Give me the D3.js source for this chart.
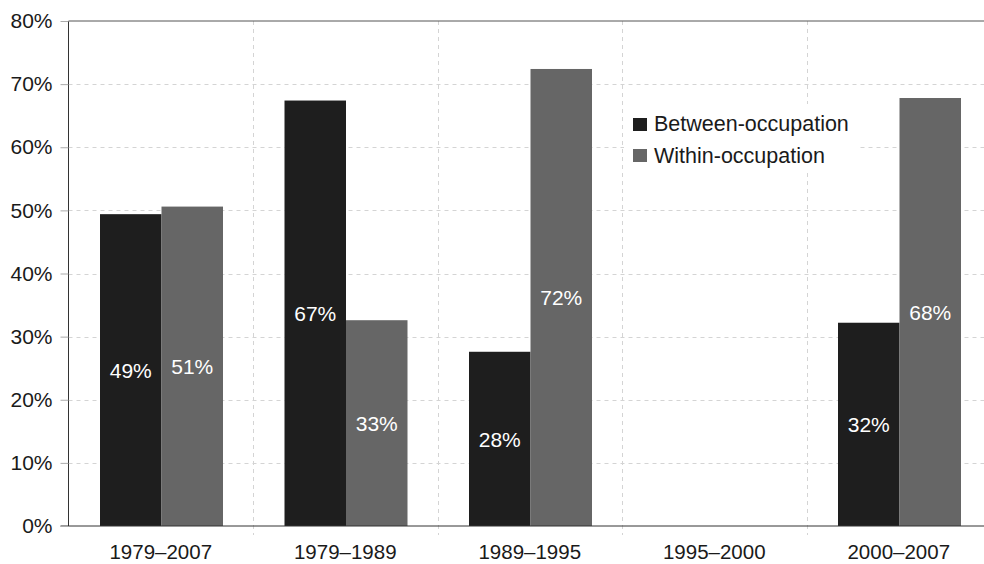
<!DOCTYPE html>
<html>
<head>
<meta charset="utf-8">
<script src="https://cdn.jsdelivr.net/npm/d3@7"></script>
<style>
  html, body { margin: 0; padding: 0; background: #fff; }
  svg { display: block; font-family: "Liberation Sans", Arial, Helvetica, sans-serif; }
</style>
</head>
<body>
<div id="chart"></div>
<script>
// ---- data ----
const periods = ["1979–2007", "1979–1989", "1989–1995", "1995–2000", "2000–2007"];
const seriesNames = ["Between-occupation", "Within-occupation"];
const between = [49.4, 67.4, 27.6, null, 32.2];
const within = [50.6, 32.6, 72.4, null, 67.8];
const yTicks = [0, 10, 20, 30, 40, 50, 60, 70, 80];
const colors = ["#1e1e1e", "#666666"];

(function () {
  const W = 984, H = 564;
  const pL = 68.5, pR = 991, pT = 21, pB = 526;

  const svg = d3.select("#chart").append("svg").attr("width", W).attr("height", H);

  const x0 = d3.scaleBand().domain(periods).range([pL, pR]);
  const x1 = d3.scaleBand().domain(seriesNames).range([31.5, x0.bandwidth() - 30]);
  const y = d3.scaleLinear().domain([0, 80]).range([pB, pT]);

  // horizontal grid
  svg.append("g").selectAll("line").data(yTicks.slice(1, -1)).join("line")
    .attr("x1", pL).attr("x2", pR)
    .attr("y1", d => Math.round(y(d)) + 0.5).attr("y2", d => Math.round(y(d)) + 0.5)
    .attr("stroke", "#d4d4d4").attr("stroke-dasharray", "4 4");

  // vertical grid (band boundaries), extending below axis as ticks
  svg.append("g").selectAll("line").data(periods.slice(1)).join("line")
    .attr("x1", d => Math.round(x0(d)) + 0.5).attr("x2", d => Math.round(x0(d)) + 0.5)
    .attr("y1", pT).attr("y2", pB + 9)
    .attr("stroke", "#d4d4d4").attr("stroke-dasharray", "4 4");

  // bars
  const rows = periods.map((p, i) => ({ p, vals: [between[i], within[i]] }));
  const grp = svg.append("g").selectAll("g").data(rows).join("g")
    .attr("transform", d => `translate(${x0(d.p)},0)`);
  const cells = d => d.vals.map((v, k) => ({ v, k })).filter(e => e.v != null);
  grp.selectAll("rect").data(cells).join("rect")
    .attr("x", e => x1(seriesNames[e.k]))
    .attr("width", x1.bandwidth())
    .attr("y", e => y(e.v))
    .attr("height", e => y(0) - y(e.v))
    .attr("fill", e => colors[e.k]);
  grp.selectAll("text").data(cells).join("text")
    .attr("x", e => x1(seriesNames[e.k]) + x1.bandwidth() / 2)
    .attr("y", e => (y(e.v) + y(0)) / 2 + 8)
    .attr("text-anchor", "middle").attr("fill", "#fff").attr("font-size", 21)
    .text(e => Math.round(e.v) + "%");

  // legend with white backing
  const lg = svg.append("g").attr("transform", "translate(624,104)");
  lg.append("rect").attr("width", 234).attr("height", 68).attr("fill", "#fff");
  seriesNames.forEach((s, i) => {
    lg.append("rect").attr("x", 9).attr("y", 14 + i * 31).attr("width", 14).attr("height", 13).attr("fill", colors[i]);
    lg.append("text").attr("x", 30).attr("y", 27 + i * 32).attr("font-size", 21.5).attr("fill", "#1a1a1a").text(s);
  });

  // frame: left axis, top border, bottom axis
  svg.append("line").attr("x1", pL).attr("x2", pL).attr("y1", pT).attr("y2", pB).attr("stroke", "#333");
  svg.append("line").attr("x1", pL).attr("x2", pR).attr("y1", pT).attr("y2", pT).attr("stroke", "#555");
  svg.append("line").attr("x1", pL - 8).attr("x2", pR).attr("y1", pB).attr("y2", pB).attr("stroke", "#333");

  // y axis ticks and labels
  const ya = svg.append("g").attr("transform", `translate(${pL},0)`)
    .call(d3.axisLeft(y).tickValues(yTicks).tickSize(8).tickPadding(8).tickFormat(d => d + "%"));
  ya.select(".domain").remove();
  ya.selectAll(".tick line").attr("stroke", "#aaa");
  ya.selectAll(".tick text").attr("font-size", 21).attr("fill", "#1a1a1a").attr("font-family", null);

  // x labels
  svg.append("g").selectAll("text").data(periods).join("text")
    .attr("x", d => x0(d) + x0.bandwidth() / 2).attr("y", 559)
    .attr("text-anchor", "middle").attr("font-size", 20.5).attr("fill", "#1a1a1a")
    .text(d => d);
})();
</script>
</body>
</html>
